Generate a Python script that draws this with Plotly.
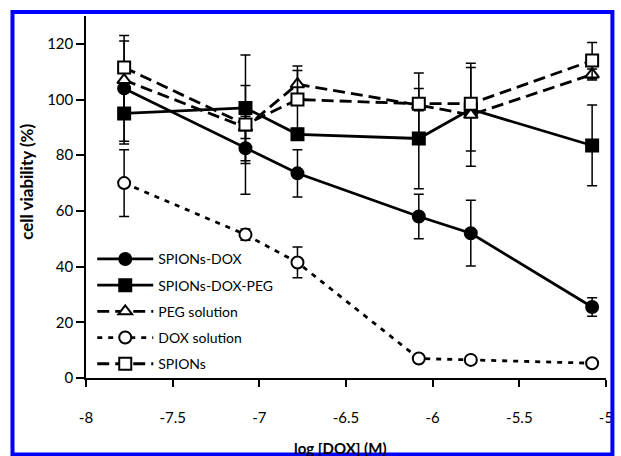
import plotly.graph_objects as go

# ---- data ----
x_log_dox = [-7.78, -7.08, -6.78, -6.08, -5.78, -5.08]

spions_dox = [104, 82.5, 73.5, 58, 52, 25.5]
spions_dox_err = [19, 16.5, 8.5, 8, 11.8, 3.3]

spions_dox_peg = [95, 97, 87.5, 86, 96.5, 83.5]
spions_dox_peg_err = [11, 19, 2, 18, 15, 14.5]

peg_solution = [107, 90, 105.5, 98, 94.5, 109]
peg_solution_err = [14, 4, 6.5, 2, 18.5, 2]

dox_solution = [70, 51.5, 41.5, 7, 6.5, 5.3]
dox_solution_err = [12, 2, 5.5, 1, 1, 1]

spions = [111.5, 91, 100, 98.5, 98.5, 114]
spions_err = [2, 14, 10.4, 11, 2, 6.5]

x_tick_vals = [-8, -7.5, -7, -6.5, -6, -5.5, -5]
x_tick_text = ["-8", "-7.5", "-7", "-6.5", "-6", "-5.5", "-5"]
y_tick_vals = [0, 20, 40, 60, 80, 100, 120]

FONT = "Lato"

series = [
    ("SPIONs-DOX", spions_dox, spions_dox_err, "solid", "circle", "black"),
    ("SPIONs-DOX-PEG", spions_dox_peg, spions_dox_peg_err, "solid", "square", "black"),
    ("PEG solution", peg_solution, peg_solution_err, "12px,6px", "triangle-up", "white"),
    ("DOX solution", dox_solution, dox_solution_err, "5px,6px", "circle", "white"),
    ("SPIONs", spions, spions_err, "12px,6px", "square", "white"),
]

fig = go.Figure()
for i, (name, vals, errs, dash, sym, fill) in enumerate(series):
    fig.add_trace(go.Scatter(
        x=x_log_dox, y=vals, name=name, mode="lines+markers",
        legendgroup=f"g{i}",
        line=dict(color="black", width=2.8, dash=dash),
        marker=dict(symbol=sym, size=12, color=fill,
                    line=dict(color="black", width=2)),
        error_y=dict(type="data", array=errs, visible=True,
                     color="black", thickness=1.5, width=5),
    ))

fig.update_layout(
    width=621, height=456,
    margin=dict(l=86, r=8, t=16, b=78),
    paper_bgcolor="white", plot_bgcolor="white",
    font=dict(family=FONT, size=15, color="black"),
    showlegend=True,
    legend=dict(x=0.012, y=0.372, xanchor="left", yanchor="top",
                bgcolor="rgba(0,0,0,0)", font=dict(family=FONT, size=14),
                tracegroupgap=5, itemwidth=56),
    xaxis=dict(range=[-8, -5], tickvals=x_tick_vals, ticktext=x_tick_text,
               showgrid=False, zeroline=False, showline=True,
               linecolor="black", linewidth=1.5, ticks="outside",
               ticklen=7, tickwidth=1.5, tickcolor="black",
               ticklabelstandoff=18, tickfont=dict(size=15)),
    yaxis=dict(range=[0, 130], tickvals=y_tick_vals,
               showgrid=False, zeroline=False, showline=True,
               linecolor="black", linewidth=1.5, ticks="outside",
               ticklen=8, tickwidth=1.5, tickcolor="black",
               tickfont=dict(size=15)),
    annotations=[
        dict(text="<b>log [DOX] (M)</b>", xref="paper", yref="paper",
             x=0.49, y=-0.193, xanchor="center", yanchor="middle",
             showarrow=False, font=dict(size=15)),
        dict(text="<b>cell viability (%)</b>", xref="paper", yref="paper",
             x=-0.116, y=0.541, xanchor="center", yanchor="middle",
             textangle=-90, showarrow=False, font=dict(size=17)),
    ],
    shapes=[
        dict(type="rect", xref="paper", yref="paper",
             x0=(11.5 - 86) / 527, x1=(619.5 - 86) / 527,
             y0=(378 - 454.5) / 362, y1=(378 - 12) / 362,
             line=dict(color="#0000ff", width=4), fillcolor="rgba(0,0,0,0)",
             layer="above"),
    ],
)

fig.write_html("out.html")
